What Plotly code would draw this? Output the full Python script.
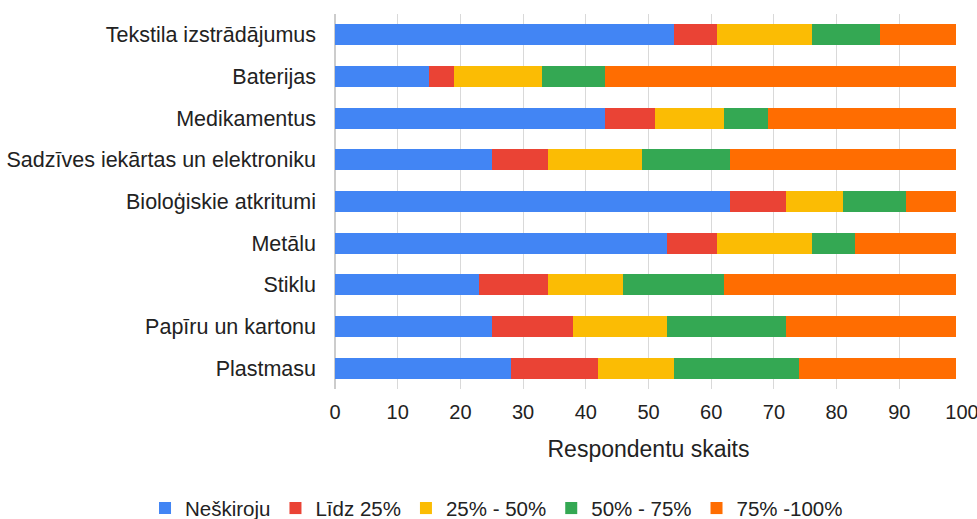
import plotly.graph_objects as go

categories = ["Tekstila izstrādājumus", "Baterijas", "Medikamentus",
              "Sadzīves iekārtas un elektroniku", "Bioloģiskie atkritumi",
              "Metālu", "Stiklu", "Papīru un kartonu", "Plastmasu"]
series_names = ["Neškiroju", "Līdz 25%", "25% - 50%", "50% - 75%", "75% -100%"]
neskiroju = [54, 15, 43, 25, 63, 53, 23, 25, 28]
lidz25 = [7, 4, 8, 9, 9, 8, 11, 13, 14]
p25_50 = [15, 14, 11, 15, 9, 15, 12, 15, 12]
p50_75 = [11, 10, 7, 14, 10, 7, 16, 19, 20]
p75_100 = [12, 56, 30, 36, 8, 16, 37, 27, 25]
x_ticks = [0, 10, 20, 30, 40, 50, 60, 70, 80, 90, 100]

colors = ["#4285F4", "#EA4335", "#FBBC04", "#34A853", "#FF6D01"]
values = [neskiroju, lidz25, p25_50, p50_75, p75_100]

fig = go.Figure()
for name, vals, c in zip(series_names, values, colors):
    fig.add_trace(go.Bar(y=categories, x=vals, name=name, orientation="h",
                         marker=dict(color=c, line=dict(width=0)), width=0.5))

fig.update_layout(
    barmode="stack",
    width=977, height=519,
    margin=dict(l=335, r=15, t=14, b=130, autoexpand=False),
    plot_bgcolor="white", paper_bgcolor="white",
    font=dict(family="Liberation Sans, Arial, sans-serif", size=20, color="#222"),
    xaxis=dict(range=[0, 100], tickvals=x_ticks, showgrid=True, gridcolor="#d9d9d9",
               gridwidth=1, zeroline=True, zerolinecolor="#cccccc",
               ticks="outside", ticklen=5, tickcolor="rgba(0,0,0,0)",
               automargin=False, ticklabeloverflow="allow",
               title=dict(text="Respondentu skaits", font=dict(size=23), standoff=18),
               tickfont=dict(size=20)),
    yaxis=dict(autorange="reversed", ticks="", ticklabelstandoff=18, automargin=False,
               tickfont=dict(size=21.5), showgrid=False),
    legend=dict(orientation="h", xref="paper", x=-0.303, xanchor="left",
                yref="paper", y=-0.318, yanchor="middle", font=dict(size=20.5),
                traceorder="normal", itemwidth=30),
    showlegend=True,
)
fig.write_html("out.html", config={"displayModeBar": False},
               post_script="document.body.style.margin='0';")
